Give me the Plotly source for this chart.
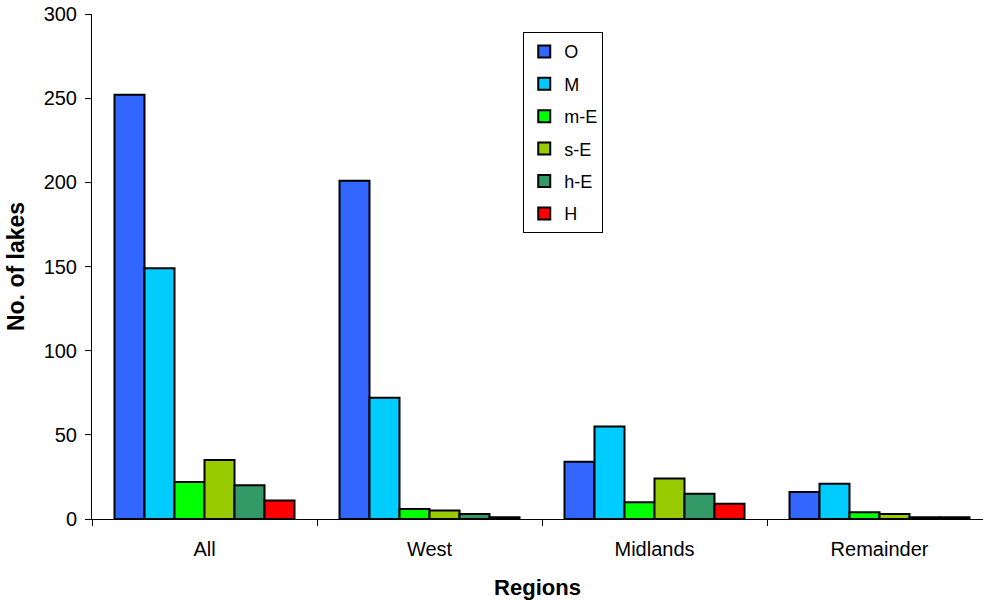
import plotly.graph_objects as go

regions = ["All", "West", "Midlands", "Remainder"]
series_names = ["O", "M", "m-E", "s-E", "h-E", "H"]
O = [252, 201, 34, 16]
M = [149, 72, 55, 21]
mE = [22, 6, 10, 4]
sE = [35, 5, 24, 3]
hE = [20, 3, 15, 1]
H = [11, 1, 9, 1]
values = [O, M, mE, sE, hE, H]
colors = ["#3366FF", "#00CCFF", "#00FF00", "#99CC00", "#339966", "#FF0000"]

fig = go.Figure()
for name, vals, col in zip(series_names, values, colors):
    fig.add_trace(go.Bar(
        x=regions, y=vals, name=name, legendgroup=name,
        marker=dict(color=col, line=dict(color="black", width=2)),
    ))

font_family = "Liberation Sans, Arial, sans-serif"
fig.update_layout(
    width=983, height=605,
    margin=dict(l=92, r=0, t=14, b=86),
    paper_bgcolor="white", plot_bgcolor="white",
    barmode="group", bargap=0.2, bargroupgap=0,
    font=dict(family=font_family, size=20, color="black"),
    showlegend=True,
    legend=dict(
        x=0.484, y=0.964, xanchor="left", yanchor="top",
        bordercolor="black", borderwidth=1, bgcolor="white",
        traceorder="grouped", tracegroupgap=6,
        font=dict(size=18),
    ),
    xaxis=dict(
        range=[-0.5, 3.46], showline=True, linecolor="black", linewidth=1,
        ticks="outside", tickson="boundaries", ticklen=6, tickcolor="black",
        showgrid=False, zeroline=False, ticklabelstandoff=12,
        title=dict(text="<b>Regions</b>", font=dict(size=22), standoff=20),
        tickfont=dict(size=20),
    ),
    yaxis=dict(
        range=[0, 300], dtick=50, showline=True, linecolor="black", linewidth=1,
        ticks="outside", ticklen=6, tickcolor="black",
        showgrid=False, zeroline=False, ticklabelstandoff=4,
        title=dict(text="<b>No. of lakes</b>", font=dict(size=23), standoff=12),
        tickfont=dict(size=20),
    ),
)

fig.write_html("out.html")
